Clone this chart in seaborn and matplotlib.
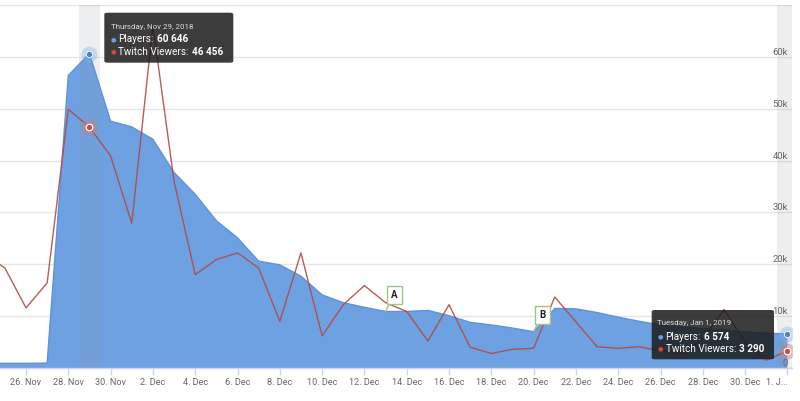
import matplotlib
matplotlib.use('Agg')
import numpy as np
import pandas as pd
import seaborn as sns
import matplotlib.pyplot as plt
import matplotlib.dates as mdates
import matplotlib.transforms as mtransforms
from matplotlib.patches import FancyBboxPatch
from matplotlib.text import Annotation

# ---------------- data ----------------
dates = pd.date_range('2018-11-24', '2019-01-01', freq='D')
players = [900, 900, 900, 950, 56400, 60646, 47600,
           46500, 44100, 37700, 33500, 28400, 25100, 20600, 19900, 17700, 14100,
           12600, 11700, 10900, 10900, 11100, 10100, 8800, 8300, 7700, 7000,
           11500, 11400, 10700, 9800, 9000, 8300, 7900, 7600, 7300, 7000, 6700,
           6574]
twitch = [22000, 19300, 11600, 16400, 49900, 46456, 40900,
          27900, 66000, 36000, 18000, 20900, 22200, 19300, 9000, 22200, 6200,
          12200, 15900, 12600, 10900, 5200, 12200, 4000, 2800, 3600, 3800,
          13700, 8900, 4100, 3800, 4100, 3300, 3000, 5500, 11300, 5000, 1500,
          3290]
xtick_dates = pd.date_range('2018-11-26', '2019-01-01', freq='2D')
xtick_labels = ['26. Nov', '28. Nov', '30. Nov', '2. Dec', '4. Dec', '6. Dec',
                '8. Dec', '10. Dec', '12. Dec', '14. Dec', '16. Dec', '18. Dec',
                '20. Dec', '22. Dec', '24. Dec', '26. Dec', '28. Dec', '30. Dec',
                '1. J...']
ytick_values = [0, 10000, 20000, 30000, 40000, 50000, 60000, 70000]
ytick_labels = ['0', '10k', '20k', '30k', '40k', '50k', '60k', '']
flag_dates = [pd.Timestamp('2018-12-13'), pd.Timestamp('2018-12-20')]
flag_labels = ['A', 'B']
hover_dates = [pd.Timestamp('2018-11-29'), pd.Timestamp('2019-01-01')]
tooltip_headers = ['Thursday, Nov 29, 2018', 'Tuesday, Jan 1, 2019']
series_names = ['Players', 'Twitch Viewers']

df = pd.DataFrame({'date': dates, 'Players': players, 'Twitch Viewers': twitch})

# ---------------- style ----------------
sns.set_theme(style='white')
plt.rcParams['font.family'] = ['Roboto', 'DejaVu Sans']

FILL = '#6ea1e1'
EDGE = '#5f93d9'
RED = '#b24a46'
BLUE_DOT = '#4a84cc'
RED_DOT = '#d0473c'
GREEN = '#a3c285'
LABEL = '#666666'

W, H = 800, 401
fig = plt.figure(figsize=(W / 100, H / 100), dpi=100)
ax = fig.add_axes([0, 33 / H, 792 / W, 363 / H])

px_per_day = 21.15
x_left = mdates.date2num(pd.Timestamp('2018-11-26')) - 26 / px_per_day
x_right = x_left + 792 / px_per_day

# area + lines
ax.fill_between(mdates.date2num(df['date']), df['Players'], 0,
                color=FILL, lw=0, zorder=2)
sns.lineplot(data=df, x='date', y='Players', color=EDGE, lw=1.0, ax=ax, zorder=3)
sns.lineplot(data=df, x='date', y='Twitch Viewers', color=RED, lw=1.0,
             alpha=0.9, ax=ax, zorder=4)

# hover bands
for d in hover_dates:
    ax.axvspan(d - pd.Timedelta(hours=12), d + pd.Timedelta(hours=12),
               color='#8d97a6', alpha=0.16, lw=0, zorder=2.5)

# hover markers
for d in hover_dates:
    i = list(dates).index(d)
    ax.scatter([d], [players[i]], s=130, color='#7cb0ee', alpha=0.35, lw=0, zorder=6)
    ax.scatter([d], [players[i]], s=20, color=BLUE_DOT, edgecolor='white',
               lw=0.6, zorder=7)
    ax.scatter([d], [twitch[i]], s=130, color='#d67a74', alpha=0.45, lw=0, zorder=6)
    ax.scatter([d], [twitch[i]], s=22, color=RED_DOT, edgecolor='white',
               lw=0.9, zorder=7)

# flags
for d, lab in zip(flag_dates, flag_labels):
    i = list(dates).index(d)
    ax.annotate(lab, xy=(d, players[i]), xytext=(6.4, 11.8),
                textcoords='offset points', ha='center', va='center',
                fontsize=7, fontweight='bold', color='#222222', zorder=8,
                bbox=dict(boxstyle='square,pad=0.42', fc='white', ec=GREEN, lw=1),
                arrowprops=dict(arrowstyle='-', color=GREEN, lw=1,
                                relpos=(0, 0), shrinkA=0, shrinkB=0))

# axes styling
ax.set_xlim(x_left, x_right)
ax.set_ylim(0, 70000)
ax.set_yticks(ytick_values)
ax.yaxis.grid(True, color='#e6e6e6', lw=1)
ax.set_axisbelow(True)
ax.tick_params(axis='y', length=0, labelleft=False, labelright=False)
ax.set_xticks(mdates.date2num(xtick_dates))
ax.set_xticklabels(xtick_labels, fontsize=6.6, color=LABEL)
ax.tick_params(axis='x', direction='out', length=5, width=1, color='#ccd6eb',
               pad=2.5, bottom=True)
ax.get_xticklabels()[-1].set_ha('right')
for s in ['top', 'left', 'right']:
    ax.spines[s].set_visible(False)
ax.spines['bottom'].set_color('#ccd6eb')
ax.spines['bottom'].set_linewidth(1)
ax.set_xlabel('')
ax.set_ylabel('')

# y labels inside on the right
ytrans = mtransforms.offset_copy(
    mtransforms.blended_transform_factory(ax.transAxes, ax.transData),
    fig=fig, x=-4, y=0, units='dots')
for v, lab in zip(ytick_values, ytick_labels):
    ax.text(1, v, lab, transform=ytrans, ha='right', va='bottom',
            fontsize=6.8, color=LABEL, zorder=9)


# tooltips
def fx(x):
    return x / W


def fy(y):
    return 1 - y / H


def tooltip(box, header, head_xy, rows, bullet_x, text_x, row_y):
    x0, y0, x1, y1 = box
    patch = FancyBboxPatch((fx(x0), fy(y1)), fx(x1) - fx(x0), fy(y0) - fy(y1),
                           boxstyle='round,pad=0,rounding_size=0.004',
                           transform=fig.transFigure, fc='#1c1c1c', ec='none',
                           alpha=0.86, zorder=20)
    fig.add_artist(patch)
    fig.text(fx(head_xy[0]), fy(head_xy[1]), header, ha='left', va='center',
             fontsize=5.7, color='#dddddd', zorder=21)
    for (name, val, col), yy in zip(rows, row_y):
        fig.text(fx(bullet_x), fy(yy), '\u25CF', ha='center', va='center',
                 fontsize=4.5, color=col, family=['DejaVu Sans'], zorder=21)
        t1 = fig.text(fx(text_x), fy(yy), name + ':', ha='left', va='center',
                      fontsize=7.2, color='white', zorder=21)
        fig.add_artist(Annotation(
            val, xy=(1, 0.5), xycoords=t1, xytext=(2.5, 0),
            textcoords='offset points', ha='left', va='center', fontsize=7.2,
            color='white', fontweight='bold', zorder=21))


def fmt(v):
    return f'{v:,}'.replace(',', ' ')


for k, d in enumerate(hover_dates):
    i = list(dates).index(d)
    rows = [(series_names[0], fmt(players[i]), '#6aa2e8'),
            (series_names[1], fmt(twitch[i]), '#d9453a')]
    if k == 0:
        tooltip((104.3, 12.7, 233.3, 62.7), tooltip_headers[k], (111, 26.5),
                rows, 113.3, 118.5, (39.5, 52))
    else:
        tooltip((651.7, 310, 774, 359.3), tooltip_headers[k], (657, 323.3),
                rows, 660.5, 665.5, (336.7, 349.3))

fig.savefig('out.png', dpi=100)
